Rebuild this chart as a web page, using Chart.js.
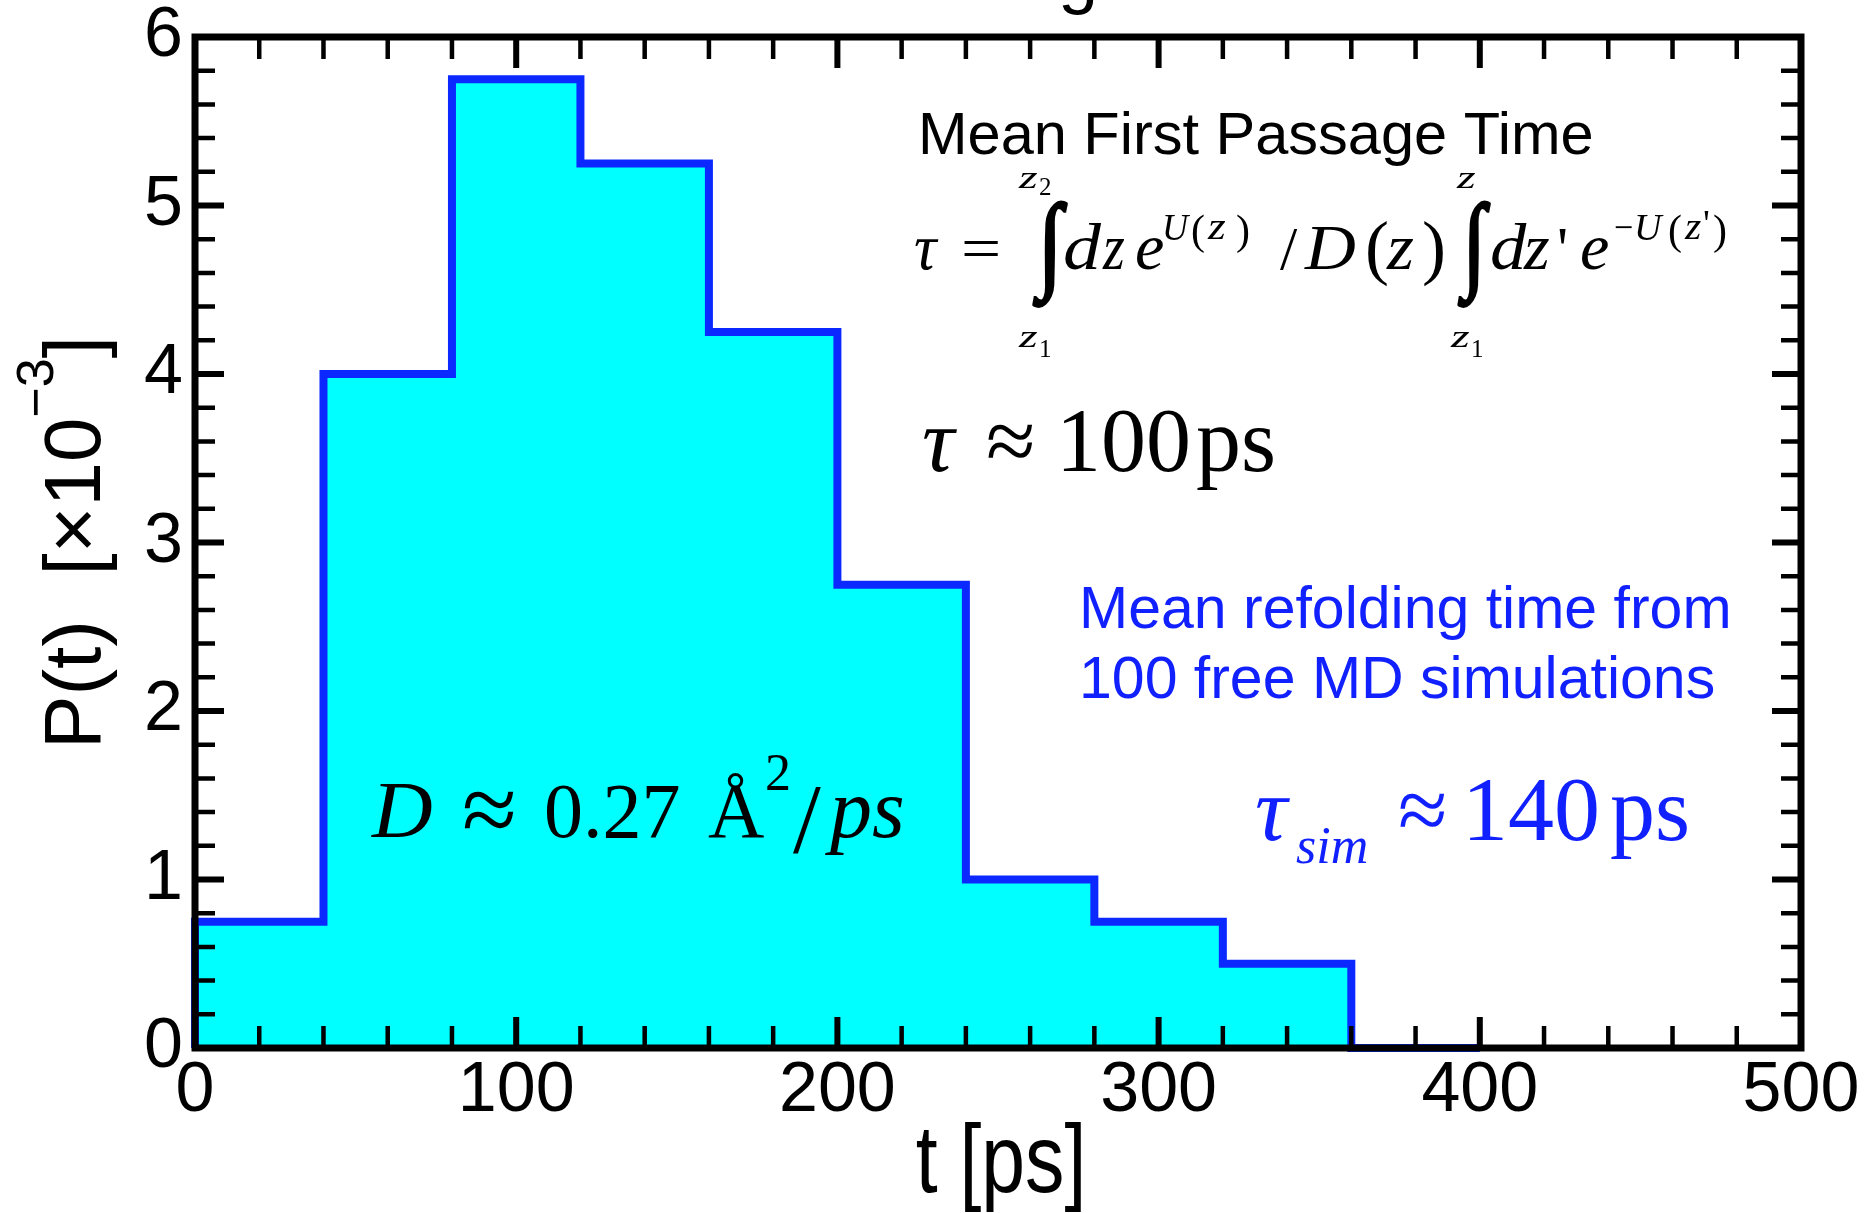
<!DOCTYPE html>
<html>
<head>
<meta charset="utf-8">
<script src="https://cdn.jsdelivr.net/npm/chart.js@4.4.1/dist/chart.umd.min.js"></script>
<style>
  html, body { margin: 0; background: #fff; }
  canvas { display: block; }
</style>
</head>
<body>
<canvas id="chart" width="1874" height="1213"></canvas>
<script>
// refolding-time histogram, bins of 40 ps
const binStart = [0, 40, 80, 120, 160, 200, 240, 280, 320, 360];
const binWidth = 40;
const probability = [0.75, 4.0, 5.75, 5.25, 4.25, 2.75, 1.0, 0.75, 0.5, 0.0];
const xMajor = [0, 100, 200, 300, 400, 500];
const yMajor = [0, 1, 2, 3, 4, 5, 6];

const sans = '"Liberation Sans", Arial, sans-serif';
const serif = '"Liberation Serif", "Times New Roman", serif';
const blue = '#0a28ff';
const textBlue = '#1020ff';

// outline points for a stepped line: start at the baseline, close at the last bin edge
const steps = [{ x: binStart[0], y: 0 }]
  .concat(binStart.map((x, i) => ({ x: x, y: probability[i] })))
  .concat([{ x: binStart[binStart.length - 1] + binWidth, y: 0 }]);

const isMajor = (v, list) => list.some(m => Math.abs(m - v) < 1e-6);

function put(ctx, text, x, y, font, color, sx) {
  ctx.save();
  ctx.font = font;
  ctx.fillStyle = color;
  ctx.textAlign = 'left';
  ctx.textBaseline = 'alphabetic';
  ctx.translate(x, y);
  ctx.scale(sx || 1, 1);
  ctx.fillText(text, 0, 0);
  ctx.restore();
}

// integral sign stretched into a box
function integral(ctx, left, top, w, h, color) {
  ctx.save();
  ctx.font = '100px ' + serif;
  ctx.fillStyle = color;
  ctx.strokeStyle = color;
  ctx.textBaseline = 'alphabetic';
  const m = ctx.measureText('∫');
  const gw = m.actualBoundingBoxLeft + m.actualBoundingBoxRight;
  const gh = m.actualBoundingBoxAscent + m.actualBoundingBoxDescent;
  ctx.translate(left, top);
  ctx.scale(w / gw, h / gh);
  ctx.lineWidth = 3;
  ctx.fillText('∫', m.actualBoundingBoxLeft, m.actualBoundingBoxAscent);
  ctx.strokeText('∫', m.actualBoundingBoxLeft, m.actualBoundingBoxAscent);
  ctx.restore();
}

const frame = {
  id: 'frame',
  afterDatasetsDraw(chart) {
    const { ctx, chartArea: a, scales } = chart;
    ctx.save();
    ctx.strokeStyle = '#000';
    ctx.lineCap = 'butt';
    scales.x.ticks.forEach(t => {
      const px = scales.x.getPixelForValue(t.value);
      const major = isMajor(t.value, xMajor);
      ctx.lineWidth = major ? 6 : 4.5;
      const len = major ? 31 : 22;
      ctx.beginPath();
      ctx.moveTo(px, a.bottom); ctx.lineTo(px, a.bottom - len);
      ctx.moveTo(px, a.top); ctx.lineTo(px, a.top + len);
      ctx.stroke();
    });
    scales.y.ticks.forEach(t => {
      const py = scales.y.getPixelForValue(t.value);
      const major = isMajor(t.value, yMajor);
      ctx.lineWidth = major ? 6 : 4.5;
      const len = major ? 29 : 20;
      ctx.beginPath();
      ctx.moveTo(a.left, py); ctx.lineTo(a.left + len, py);
      ctx.moveTo(a.right, py); ctx.lineTo(a.right - len, py);
      ctx.stroke();
    });
    ctx.lineWidth = 7;
    ctx.lineJoin = 'miter';
    ctx.strokeRect(a.left, a.top, a.right - a.left, a.bottom - a.top);
    ctx.restore();
  },
  afterDraw(chart) {
    const { ctx, chartArea: a } = chart;
    const k = '#000';

    // clipped title above the plot
    put(ctx, 'g', 1058, 0, '72px ' + sans, k);

    // x axis title (narrow face)
    ctx.save();
    ctx.font = '96px ' + sans;
    ctx.fillStyle = k;
    ctx.textAlign = 'center';
    ctx.translate((a.left + a.right) / 2 + 3, 1192);
    ctx.scale(0.82, 1);
    ctx.fillText('t [ps]', 0, 0);
    ctx.restore();

    // y axis title, rotated
    ctx.save();
    ctx.translate(100, (a.top + a.bottom) / 2);
    ctx.rotate(-Math.PI / 2);
    ctx.fillStyle = k;
    const parts = [['P(t)  [×10', 80, 0], ['−3', 52, -47], [']', 80, 0]];
    let total = 0;
    parts.forEach(p => { ctx.font = p[1] + 'px ' + sans; total += ctx.measureText(p[0]).width; });
    let x = -total / 2;
    parts.forEach(p => {
      ctx.font = p[1] + 'px ' + sans;
      ctx.fillText(p[0], x, p[2]);
      x += ctx.measureText(p[0]).width;
    });
    ctx.restore();

    // mean first passage time formula
    put(ctx, 'Mean First Passage Time', 918, 154, '59.5px ' + sans, k);
    const fi = 'italic 66px ' + serif, fu = '62px ' + serif, fp = '72px ' + serif;
    const si = 'italic 38px ' + serif, su = '38px ' + serif, sp = '42px ' + serif;
    const li = 'italic 32px ' + serif, lu = '25px ' + serif;
    put(ctx, 'τ', 914, 269, 'italic 66px ' + serif, k, 0.95);
    put(ctx, '=', 961, 269, fu, k, 1.15);
    integral(ctx, 1033, 202, 34, 105, k);
    put(ctx, 'z', 1019, 188, li, k, 1.5);
    put(ctx, '2', 1039, 195, lu, k);
    put(ctx, 'z', 1019, 347, li, k, 1.5);
    put(ctx, '1', 1039, 357, lu, k);
    put(ctx, 'd', 1063, 269, fi, k, 1.15);
    put(ctx, 'z', 1103, 269, fi, k, 0.85);
    put(ctx, 'e', 1135, 269, fi, k, 1.0);
    put(ctx, 'U', 1162, 240, si, k, 0.95);
    put(ctx, '(', 1191, 244, sp, k);
    put(ctx, 'z', 1208, 239, si, k, 1.2);
    put(ctx, ')', 1236, 244, sp, k);
    put(ctx, '/', 1280, 269, fu, k);
    put(ctx, 'D', 1305, 269, 'italic 64px ' + serif, k, 1.1);
    put(ctx, '(', 1365, 271, fp, k);
    put(ctx, 'z', 1387, 269, fi, k, 1.05);
    put(ctx, ')', 1422, 271, fp, k);
    integral(ctx, 1458, 202, 32, 105, k);
    put(ctx, 'z', 1457, 188, li, k, 1.5);
    put(ctx, 'z', 1451, 347, li, k, 1.5);
    put(ctx, '1', 1471, 357, lu, k);
    put(ctx, 'd', 1490, 269, fi, k, 1.1);
    put(ctx, 'z', 1524, 269, fi, k, 1.0);
    put(ctx, "'", 1557, 269, fu, k);
    put(ctx, 'e', 1580, 269, fi, k, 1.0);
    put(ctx, '−', 1614, 240, su, k, 0.9);
    put(ctx, 'U', 1634, 240, si, k, 1.0);
    put(ctx, '(', 1668, 244, sp, k);
    put(ctx, 'z', 1685, 239, si, k, 1.1);
    put(ctx, "'", 1703, 236, su, k);
    put(ctx, ')', 1713, 244, sp, k);

    // estimate from the formula
    put(ctx, 'τ', 922, 471, 'italic 90px ' + serif, k);
    put(ctx, '≈', 986, 471, '90px ' + serif, k);
    put(ctx, '100', 1056, 471, '90px ' + serif, k);
    put(ctx, 'ps', 1196, 471, '90px ' + serif, k);

    // simulation result
    put(ctx, 'Mean refolding time from', 1079, 628, '59px ' + sans, textBlue);
    put(ctx, '100 free MD simulations', 1079, 698, '59px ' + sans, textBlue);
    put(ctx, 'τ', 1255, 840, 'italic 90px ' + serif, textBlue);
    put(ctx, 'sim', 1296, 863, 'italic 52px ' + serif, textBlue);
    put(ctx, '≈', 1398, 840, '90px ' + serif, textBlue);
    put(ctx, '140', 1462, 840, '92px ' + serif, textBlue);
    put(ctx, 'ps', 1610, 840, '90px ' + serif, textBlue);

    // diffusion coefficient
    put(ctx, 'D', 372, 837, 'italic 80px ' + serif, k, 1.05);
    put(ctx, '≈', 462, 843, '100px ' + serif, k);
    put(ctx, '0.27', 544, 837, '78px ' + serif, k);
    put(ctx, 'Å', 708, 837, '78px ' + serif, k);
    put(ctx, '2', 765, 790, '52px ' + serif, k);
    put(ctx, '/', 793, 852, '100px ' + serif, k);
    put(ctx, 'ps', 830, 837, 'italic 84px ' + serif, k);
  }
};

new Chart(document.getElementById('chart'), {
  type: 'line',
  data: {
    datasets: [{
      data: steps,
      stepped: 'before',
      fill: 'origin',
      backgroundColor: '#00ffff',
      borderColor: blue,
      borderWidth: 8,
      pointRadius: 0,
      borderJoinStyle: 'miter',
      clip: 8
    }]
  },
  options: {
    responsive: false,
    animation: false,
    devicePixelRatio: 1,
    events: [],
    layout: { padding: { top: 37, right: 73, left: 0, bottom: 0 } },
    plugins: {
      legend: { display: false },
      tooltip: { enabled: false }
    },
    scales: {
      x: {
        type: 'linear',
        min: 0,
        max: 500,
        grid: { display: false, drawTicks: false },
        border: { display: false },
        ticks: {
          stepSize: 20,
          autoSkip: false,
          maxRotation: 0,
          padding: 2,
          color: '#000',
          font: { family: sans, size: 70 },
          callback: v => isMajor(v, xMajor) ? String(Math.round(v)) : ''
        },
        title: { display: false },
        afterFit: s => { s.height = 165; s.paddingLeft = 0; s.paddingRight = 0; }
      },
      y: {
        min: 0,
        max: 6,
        grid: { display: false, drawTicks: false },
        border: { display: false },
        ticks: {
          stepSize: 0.2,
          autoSkip: false,
          padding: 12,
          color: '#000',
          font: { family: sans, size: 70 },
          callback: v => isMajor(v, yMajor) ? String(Math.round(v)) : ''
        },
        afterFit: s => { s.width = 195; s.paddingTop = 0; s.paddingBottom = 0; }
      }
    }
  },
  plugins: [frame]
});
</script>
</body>
</html>
